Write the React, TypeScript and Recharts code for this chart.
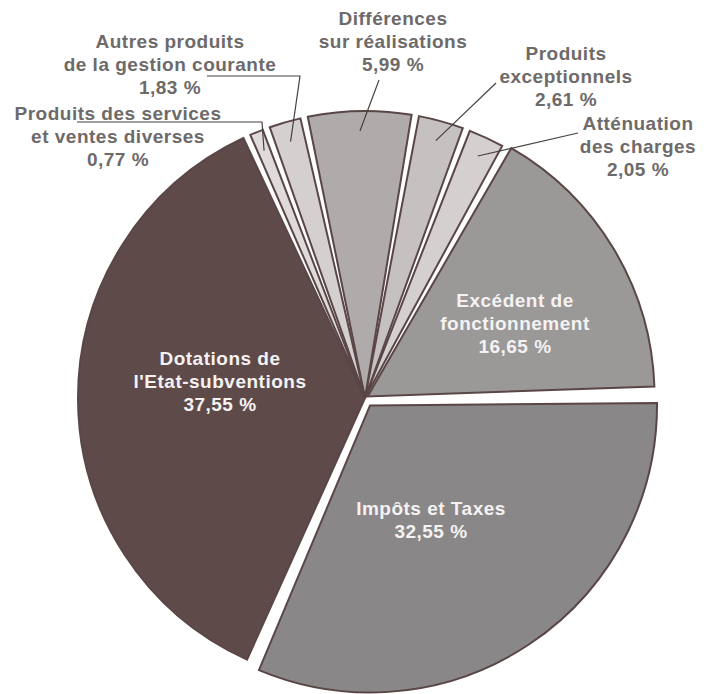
import { PieChart, Pie, Cell } from "recharts";

// Recettes de fonctionnement, part de chaque poste (%)
const categories = [
  "Excédent de fonctionnement",
  "Atténuation des charges",
  "Produits exceptionnels",
  "Différences sur réalisations",
  "Autres produits de la gestion courante",
  "Produits des services et ventes diverses",
  "Dotations de l'Etat-subventions",
  "Impôts et Taxes",
];
const shares = [16.65, 2.05, 2.61, 5.99, 1.83, 0.77, 37.55, 32.55];
const labelLines: string[][] = [
  ["Excédent de", "fonctionnement"],
  ["Atténuation", "des charges"],
  ["Produits", "exceptionnels"],
  ["Différences", "sur réalisations"],
  ["Autres produits", "de la gestion courante"],
  ["Produits des services", "et ventes diverses"],
  ["Dotations de", "l'Etat-subventions"],
  ["Impôts et Taxes"],
];

const fills = ["#9b9898", "#d3d0cf", "#c4c1c0", "#aeabaa", "#d3d0cf", "#dedbda", "#5f4a4a", "#8a8788"];
const explode = [3, 0, 0, 0, 0, 0, 0, 9];

// where each label sits; inside labels are white, outside ones get a leader line
const labelLayout: { x: number; y: number; inside: boolean; leader?: [number, number][] }[] = [
  { x: 515, y: 307, inside: true },
  { x: 638, y: 130, inside: false, leader: [[578, 133]] },
  { x: 566, y: 60, inside: false, leader: [[496, 83]] },
  { x: 393, y: 25, inside: false, leader: [[379, 80]] },
  { x: 170, y: 48, inside: false, leader: [[207, 76], [300, 76]] },
  { x: 118, y: 120, inside: false, leader: [[77, 122], [262, 122]] },
  { x: 220, y: 365, inside: true },
  { x: 431, y: 515, inside: true },
];

const data = categories.map((name, i) => ({ name, value: shares[i] }));

const W = 712;
const H = 694;
const CX = 365;
const CY = 398;
const R = 287;
const START = 2;
const PAD = 1.5;
const RADIAN = Math.PI / 180;
const lineH = 23;

const total = shares.reduce((a, b) => a + b, 0);
const span = 360 - PAD * shares.length;
let acc = START;
const mids = shares.map((v) => {
  const a = (v / total) * span;
  const m = acc + a / 2;
  acc += a + PAD;
  return m;
});

const fmt = (v: number) => v.toFixed(2).replace(".", ",") + " %";

function renderLabel(props: any) {
  const { cx, cy, midAngle, outerRadius, index } = props;
  const lay = labelLayout[index];
  const lines = [...labelLines[index], fmt(shares[index])];
  let leader = null;
  if (lay.leader) {
    const r = outerRadius - 20;
    const ex = cx + r * Math.cos(-midAngle * RADIAN);
    const ey = cy + r * Math.sin(-midAngle * RADIAN);
    const pts = [...lay.leader, [ex, ey]].map((p) => p.join(",")).join(" ");
    leader = <polyline points={pts} fill="none" stroke="#4a4040" strokeWidth={1.2} />;
  }
  return (
    <g key={`lbl-${index}`}>
      {leader}
      <text
        x={lay.x}
        y={lay.y}
        textAnchor="middle"
        fontFamily="'Liberation Sans', Arial, sans-serif"
        fontWeight={700}
        fontSize={19}
        letterSpacing={0.5}
        fill={lay.inside ? "#f4f2f2" : "#6e6a6a"}
      >
        {lines.map((l, j) => (
          <tspan key={j} x={lay.x} y={lay.y + j * lineH}>
            {l}
          </tspan>
        ))}
      </text>
    </g>
  );
}

export default function App() {
  return (
    <div style={{ position: "absolute", left: 0, top: 0, width: W, height: H, background: "#fff" }}>
      <PieChart width={W} height={H} margin={{ top: 0, right: 0, bottom: 0, left: 0 }}>
        {shares.map((_, k) => (
          <Pie
            key={`slice-${k}`}
            data={data}
            dataKey="value"
            nameKey="name"
            cx={CX + explode[k] * Math.cos(mids[k] * RADIAN)}
            cy={CY - explode[k] * Math.sin(mids[k] * RADIAN)}
            outerRadius={R}
            startAngle={START}
            endAngle={START + 360}
            paddingAngle={PAD}
            isAnimationActive={false}
            labelLine={false}
          >
            {data.map((d, j) => (
              <Cell
                key={d.name}
                fill={j === k ? fills[j] : "none"}
                stroke={j === k ? "#5a4646" : "none"}
                strokeWidth={2}
                strokeLinejoin="miter"
              />
            ))}
          </Pie>
        ))}
        <Pie
          data={data}
          dataKey="value"
          nameKey="name"
          cx={CX}
          cy={CY}
          outerRadius={R}
          startAngle={START}
          endAngle={START + 360}
          paddingAngle={PAD}
          isAnimationActive={false}
          labelLine={false}
          label={renderLabel}
        >
          {data.map((d) => (
            <Cell key={d.name} fill="none" stroke="none" />
          ))}
        </Pie>
      </PieChart>
    </div>
  );
}
